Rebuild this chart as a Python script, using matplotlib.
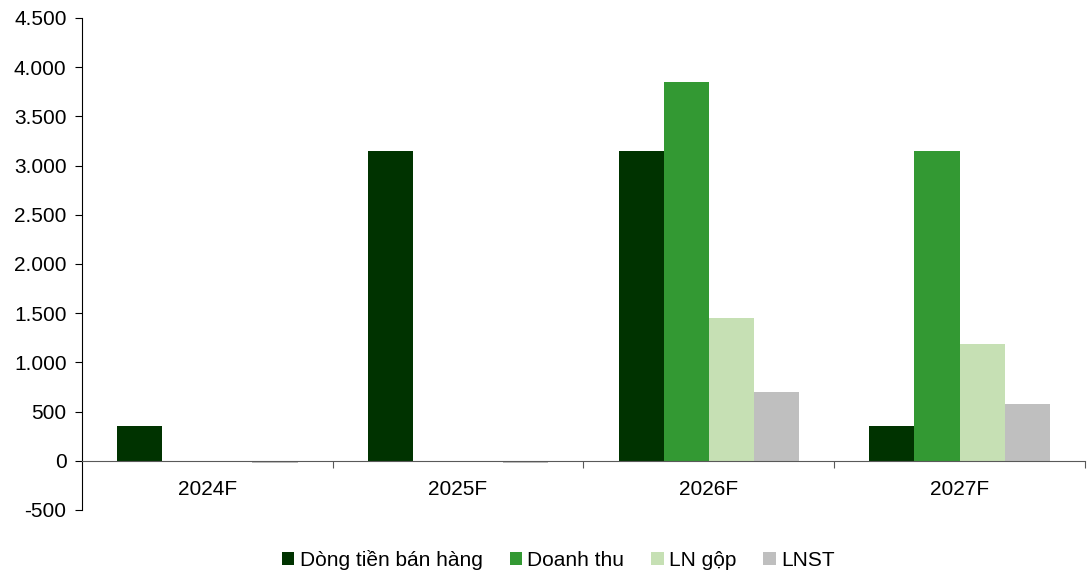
import numpy as np
import matplotlib.pyplot as plt
from matplotlib.ticker import FuncFormatter, FixedLocator

plt.rcParams['font.family'] = ['Liberation Sans', 'DejaVu Sans']

# Data
years = ['2024F', '2025F', '2026F', '2027F']
series_names = ['Dòng tiền bán hàng', 'Doanh thu', 'LN gộp', 'LNST']
dong_tien = [350, 3150, 3150, 350]
doanh_thu = [0, 0, 3850, 3150]
ln_gop = [0, 0, 1450, 1190]
lnst = [-20, -20, 700, 580]
colors = ['#003300', '#339933', '#C6E0B4', '#BFBFBF']

fig = plt.figure(figsize=(10.91, 5.73), dpi=100)
ax = fig.add_axes([0.075, 0.110, 0.9195, 0.8586])

x = np.arange(len(years))
n = 4
width = 0.18
for i, vals in enumerate([dong_tien, doanh_thu, ln_gop, lnst]):
    ax.bar(x + (i - (n - 1) / 2) * width, vals, width, color=colors[i],
           label=series_names[i], zorder=2)

ax.set_xlim(-0.5, len(years) - 0.5)
ax.set_ylim(-500, 4500)
ax.set_yticks(np.arange(-500, 4501, 500))
ax.yaxis.set_major_formatter(FuncFormatter(lambda v, p: f'{int(v):,}'.replace(',', '.')))

# x axis at zero, ticks between categories
ax.spines['bottom'].set_position(('data', 0))
ax.spines['top'].set_visible(False)
ax.spines['right'].set_visible(False)
ax.spines['bottom'].set_color('#595959')
ax.spines['left'].set_color('#000000')
ax.xaxis.set_major_locator(FixedLocator(np.arange(0.5, len(years), 1.0)))
ax.xaxis.set_major_formatter(FuncFormatter(lambda v, p: ''))
ax.xaxis.set_minor_locator(FixedLocator(x))
ax.set_xticklabels(years, minor=True)
ax.tick_params(axis='x', which='major', length=5, direction='out', color='#595959')
ax.tick_params(axis='x', which='minor', length=0, pad=14, labelsize=15)
ax.tick_params(axis='y', length=5, direction='out', labelsize=15, pad=6)

ax.legend(loc='center', bbox_to_anchor=(0.475, -0.102), ncol=4, frameon=False,
          fontsize=15, handlelength=0.6, handleheight=0.6, handletextpad=0.25,
          columnspacing=1.3)

fig.savefig('out.png', dpi=100)
